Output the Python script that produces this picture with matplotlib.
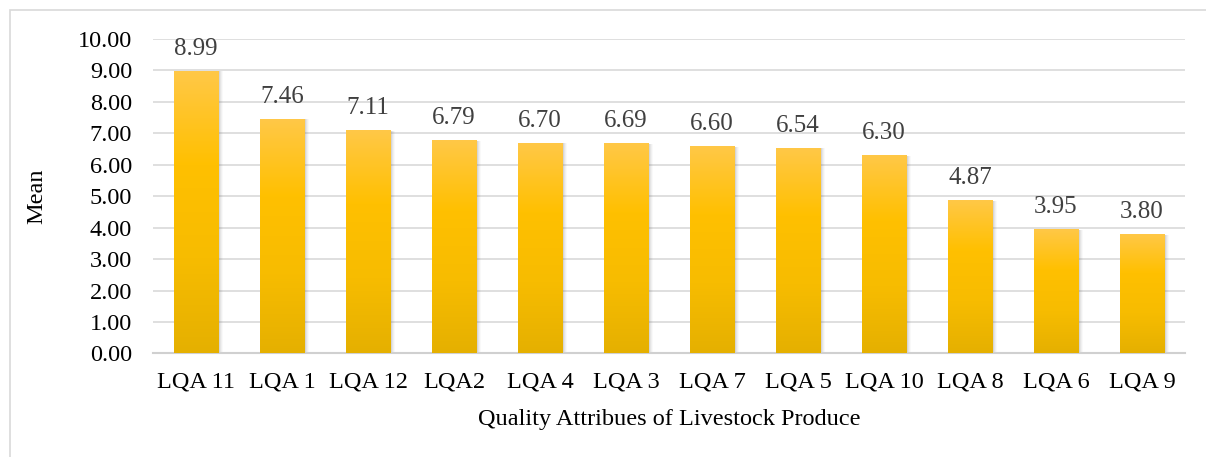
import numpy as np
import matplotlib.pyplot as plt
from matplotlib.colors import LinearSegmentedColormap
from matplotlib.patches import Rectangle

plt.rcParams['font.family'] = ['Liberation Serif', 'DejaVu Serif']

labels = ['LQA 11', 'LQA 1', 'LQA 12', 'LQA2', 'LQA 4', 'LQA 3',
          'LQA 7', 'LQA 5', 'LQA 10', 'LQA 8', 'LQA 6', 'LQA 9']
means = [8.99, 7.46, 7.11, 6.79, 6.70, 6.69, 6.60, 6.54, 6.30, 4.87, 3.95, 3.80]

fig = plt.figure(figsize=(12.06, 4.57), dpi=100)
ax = fig.add_axes([0.1269, 0.2265, 0.8557, 0.6882])

# outer chart frame
fig.patches.append(Rectangle((10/1206, -0.1), 1.2, 1 - 10/457 + 0.1,
                             transform=fig.transFigure, fill=False,
                             edgecolor='#d9d9d9', lw=1.2, zorder=0))

gold = LinearSegmentedColormap.from_list(
    'gold', ['#e5b000', '#f7bc00', '#ffc000', '#ffc848'])
grad = np.linspace(0, 1, 256).reshape(-1, 1)

x = np.arange(len(labels))
w = 0.52
bars = ax.bar(x, means, width=w, color='none', zorder=3)
for b, v in zip(bars, means):
    x0 = b.get_x()
    # soft drop shadow
    for k, a in enumerate([0.10, 0.07, 0.05, 0.03]):
        d = 0.012 * (k + 1)
        ax.add_patch(Rectangle((x0 + d * 0.6, -0.02), w + d * 0.6, v,
                               facecolor='#555555', edgecolor='none',
                               alpha=a, zorder=2))
    im = ax.imshow(grad, cmap=gold, aspect='auto', origin='lower',
                   extent=(x0, x0 + w, 0, v), zorder=3)
    im.set_clip_path(b)
    ax.annotate(f'{v:.2f}', (b.get_x() + w / 2, v), xytext=(0, 8),
                textcoords='offset points', ha='center', va='bottom',
                fontsize=18, color='#404040')

ax.set_xlim(-0.5, len(labels) - 0.5)
ax.set_ylim(0, 10)
ax.set_yticks(np.arange(0, 11, 1))
ax.set_yticklabels([f'{t:.2f}' for t in range(11)])
ax.set_xticks(x)
ax.set_xticklabels(labels)
ax.tick_params(axis='both', length=0, labelsize=17.5, colors='black')
ax.tick_params(axis='y', pad=15)
ax.tick_params(axis='x', pad=13)
ax.grid(axis='y', color='#d9d9d9', lw=1.2, zorder=0)
ax.set_axisbelow(True)
for s in ['top', 'right', 'left']:
    ax.spines[s].set_visible(False)
ax.spines['bottom'].set_color('#d0d0d0')
ax.spines['bottom'].set_linewidth(1.5)

ax.set_ylabel('Mean', fontsize=17.5, labelpad=22)
ax.set_xlabel('Quality Attribues of Livestock Produce', fontsize=17.5, labelpad=12)

fig.savefig('out.png', dpi=100)
